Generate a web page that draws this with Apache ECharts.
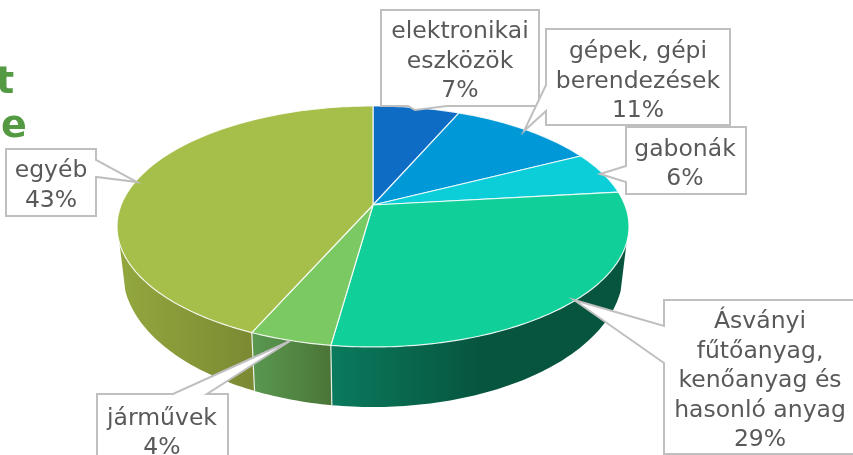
<!DOCTYPE html>
<html>
<head>
<meta charset="utf-8">
<style>
  html, body { margin: 0; padding: 0; background: #fff; }
  #chart { width: 853px; height: 455px; }
</style>
<script src="https://cdn.jsdelivr.net/npm/echarts@6/dist/echarts.min.js"></script>
</head>
<body>
<div id="chart"></div>
<script>
// ---------- Data ----------
const categories = ['elektronikai\neszközök', 'gépek, gépi\nberendezések', 'gabonák', 'Ásványi\nfűtőanyag,\nkenőanyag és\nhasonló anyag', 'járművek', 'egyéb'];
const shares = [6.5, 11, 5.7, 29, 4.4, 43.4];
const topColors = ['#0f6cc4', '#0098d6', '#0cced9', '#10cf98', '#7ac963', '#a6bf4b'];
// wall gradient [left, right], only the slices facing the viewer have one
const wallColors = [null, null, null, ['#0a7a5d', '#07553f'], ['#5a9850', '#4b7538'], ['#92a63e', '#7b8a33']];

// ---------- Pie projection (tilted disc seen in perspective) ----------
const CX = 373, TOP_CY = 205, BOTTOM_CY = 248, BOTTOM_SX = 0.977, BOTTOM_SY = 1.12;
const RX = 251.9, RY = 116.7, PERSP = 0.178;
const WALL_FROM = 108, WALL_TO = 252;
const WALL_X = [[0, 0], [0, 0], [0, 0], [331, 480], [252, 331], [125, 252]];

function project(deg, bottom) {
  const a = deg * Math.PI / 180;
  const w = 1 + PERSP * Math.cos(a);
  return [
    CX + (bottom ? BOTTOM_SX : 1) * RX * Math.sin(a) / w,
    (bottom ? BOTTOM_CY : TOP_CY) - (bottom ? BOTTOM_SY : 1) * RY * Math.cos(a) / w
  ];
}

function arc(from, to, bottom) {
  const pts = [], n = Math.max(2, Math.ceil(Math.abs(to - from)));
  for (let i = 0; i <= n; i++) pts.push(project(from + (to - from) * i / n, bottom));
  return pts;
}

const total = shares.reduce((s, v) => s + v, 0);
function sliceAngles(idx) {
  const before = shares.slice(0, idx).reduce((s, v) => s + v, 0);
  return [before / total * 360, (before + shares[idx]) / total * 360];
}

function renderWall(params, api) {
  const i = params.dataIndex, colors = wallColors[i];
  if (!colors) return null;
  const [a0, a1] = sliceAngles(i);
  const from = Math.max(a0, WALL_FROM), to = Math.min(a1, WALL_TO);
  const points = arc(from, to, false).concat(arc(to, from, true));
  const children = [{
    type: 'polygon',
    shape: { points },
    style: {
      fill: new echarts.graphic.LinearGradient(WALL_X[i][0], 0, WALL_X[i][1], 0, [
        { offset: 0, color: colors[0] }, { offset: 1, color: colors[1] }
      ], true)
    }
  }];
  if (a0 > WALL_FROM) {
    children.push({
      type: 'line',
      shape: { x1: project(a0)[0], y1: project(a0)[1], x2: project(a0, true)[0], y2: project(a0, true)[1] },
      style: { stroke: 'rgba(255,255,255,0.85)', lineWidth: 1.2 }
    });
  }
  return { type: 'group', children };
}

function renderTop(params, api) {
  const i = params.dataIndex, [a0, a1] = sliceAngles(i);
  return {
    type: 'polygon',
    shape: { points: [[CX, TOP_CY]].concat(arc(a0, a1, false)) },
    style: { fill: topColors[i], stroke: 'rgba(255,255,255,0.85)', lineWidth: 1.2, lineJoin: 'round' }
  };
}

// ---------- Callouts ----------
// outline points of each box with its pointer, and the text centre (same order as categories)
const calloutShapes = [
  [[381, 10], [539, 10], [539, 106], [447, 106], [415, 110], [408, 106], [381, 106]],
  [[546, 29], [730, 29], [730, 125], [546, 125], [546, 111], [524, 131], [546, 85]],
  [[626, 127], [746, 127], [746, 194], [626, 194], [626, 182], [600, 174], [626, 166]],
  [[664, 300], [856, 300], [856, 454], [664, 454], [664, 363], [574, 300], [664, 326]],
  [[97, 394], [173, 394], [290, 341], [207, 394], [228, 394], [228, 460], [97, 460]],
  [[6, 149], [96, 149], [96, 160], [137, 182], [96, 177], [96, 216], [6, 216]]
];
const calloutText = [[460, 61.5], [638, 81.5], [685, 164.5], [760, 381], [162, 433.5], [51, 186]];

function renderCallout(params, api) {
  const i = params.dataIndex;
  return {
    type: 'group',
    children: [{
      type: 'polygon',
      shape: { points: calloutShapes[i] },
      style: { fill: '#fff', stroke: '#bfbfbf', lineWidth: 2, lineJoin: 'miter' }
    }, {
      type: 'text',
      style: {
        text: categories[i] + '\n' + shares[i].toFixed(0) + '%',
        x: calloutText[i][0], y: calloutText[i][1],
        align: 'center', verticalAlign: 'middle',
        fontFamily: 'DejaVu Sans', fontSize: 23.5, lineHeight: 29.5, fill: '#595959'
      }
    }]
  };
}

const seriesData = shares.map(v => [v]);
const chart = echarts.init(document.getElementById('chart'), null, { renderer: 'canvas' });
chart.setOption({
  animation: false,
  backgroundColor: '#fff',
  graphic: [
    { type: 'text', z: 10, style: { text: 't', x: -4, y: 102, verticalAlign: 'bottom', fontFamily: 'DejaVu Sans', fontWeight: 'bold', fontSize: 38, fill: '#549a42' } },
    { type: 'text', z: 10, style: { text: 'e', x: 1, y: 146, verticalAlign: 'bottom', fontFamily: 'DejaVu Sans', fontWeight: 'bold', fontSize: 38, fill: '#549a42' } }
  ],
  series: [
    { type: 'custom', coordinateSystem: 'none', silent: true, z: 1, renderItem: renderWall, data: seriesData },
    { type: 'custom', coordinateSystem: 'none', silent: true, z: 2, renderItem: renderTop, data: seriesData },
    { type: 'custom', coordinateSystem: 'none', silent: true, z: 3, renderItem: renderCallout, data: seriesData }
  ]
});
</script>
</body>
</html>
